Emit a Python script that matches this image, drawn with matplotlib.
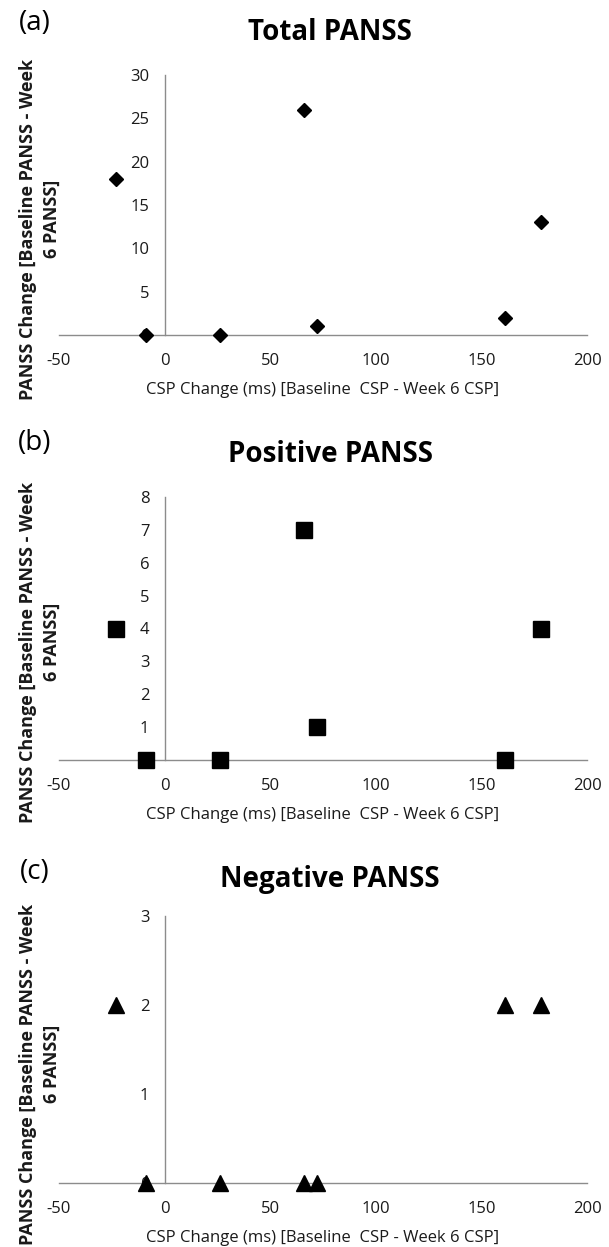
import matplotlib
matplotlib.use('Agg')
import matplotlib.pyplot as plt

# CSP change (ms) per subject, same for all three panels
csp_change = [-23, -9, 26, 66, 72, 161, 178]
total_panss = [18, 0, 0, 26, 1, 2, 13]
positive_panss = [4, 0, 0, 7, 1, 0, 4]
negative_panss = [2, 0, 0, 0, 0, 2, 2]

titles = ['Total PANSS', 'Positive PANSS', 'Negative PANSS']
panel_tags = ['(a)', '(b)', '(c)']
y_ticks = [list(range(0, 31, 5)), list(range(0, 9)), list(range(0, 4))]
x_ticks = [-50, 0, 50, 100, 150, 200]
x_ticklabels = ['-50', '0', '50', '100', '150', '200']

xlabel = 'CSP Change (ms) [Baseline  CSP - Week 6 CSP]'
ylabel_1 = 'PANSS Change [Baseline PANSS - Week'
ylabel_2 = '6 PANSS]'

W, H = 609, 1247
plt.rcParams['font.family'] = ['Open Sans', 'DejaVu Sans']

fig = plt.figure(figsize=(W / 100, H / 100), dpi=100)

# pixel layout (top, bottom of plot area) for each panel
rows = [(75, 335), (497, 760), (916, 1183)]
title_y = [32, 455, 880]
tag_y = [23, 443, 872]
ylab_y = [229, 652, 1074]
left, right = 59, 587

series = [total_panss, positive_panss, negative_panss]
markers = [('D', 7), ('s', 11), ('^', 11)]
axcol = '#8c8c8c'
txtcol = '#1a1a1a'

def fx(px):
    return px / W

def fy(py):
    return 1 - py / H

for i in range(3):
    top, bot = rows[i]
    ax = fig.add_axes([fx(left), fy(bot), fx(right - left), (bot - top) / H])
    ax.set_xlim(-50, 200)
    ax.set_ylim(0, y_ticks[i][-1])
    ax.spines['top'].set_visible(False)
    ax.spines['right'].set_visible(False)
    ax.spines['left'].set_position(('data', 0))
    for s in ['left', 'bottom']:
        ax.spines[s].set_color(axcol)
        ax.spines[s].set_linewidth(1.0)
    ax.set_xticks(x_ticks)
    ax.set_xticklabels(x_ticklabels)
    ax.set_yticks(y_ticks[i])
    ax.set_yticklabels([str(v) for v in y_ticks[i]])
    ax.tick_params(axis='x', length=0, pad=13, labelsize=12, labelcolor=txtcol)
    ax.tick_params(axis='y', length=0, pad=11, labelsize=12, labelcolor=txtcol)
    ax.patch.set_visible(False)

    m, ms = markers[i]
    ax.plot(csp_change, series[i], linestyle='none', marker=m, markersize=ms,
            color='black', clip_on=False, zorder=5)

    fig.text(fx(323), fy(rows[i][1] + 55), xlabel, ha='center', va='center', fontsize=12,
             color=txtcol)
    # y label, two lines written apart as in the source
    fig.text(fx(28), fy(ylab_y[i]), ylabel_1, ha='center', va='center', rotation=90,
             fontsize=13, fontweight='bold', color=txtcol)
    fig.text(fx(52), fy(ylab_y[i] - 10), ylabel_2, ha='center', va='center', rotation=90,
             fontsize=13, fontweight='bold', color=txtcol)
    fig.text(fx(330), fy(title_y[i]), titles[i], ha='center', va='center', fontsize=20,
             fontweight='bold', color='black')
    fig.text(fx(35), fy(tag_y[i]), panel_tags[i], ha='center', va='center', fontsize=20,
             color='black')

fig.savefig('out.png', dpi=100)
